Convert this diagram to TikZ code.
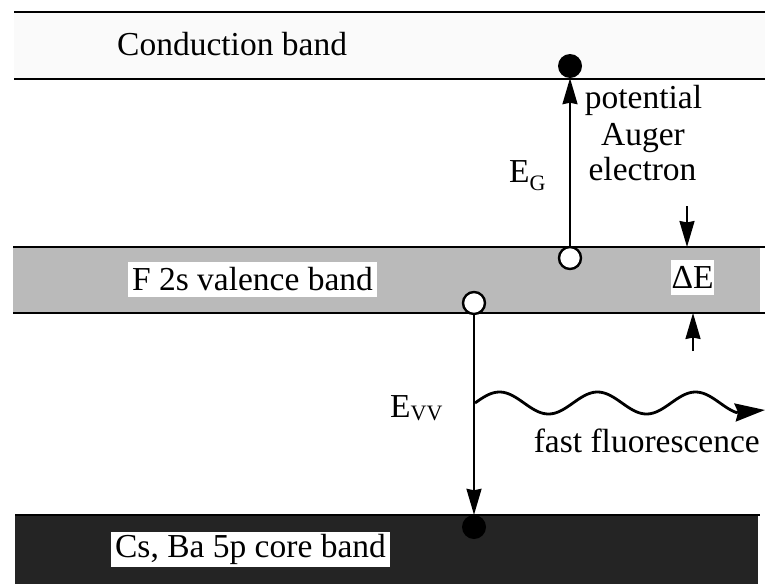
\documentclass[tikz,border=0pt]{standalone}
\usepackage{fontspec}
\setmainfont{Liberation Serif}
\usetikzlibrary{arrows.meta}
\tikzset{
  bandline/.style={line width=2.6pt},
  lbl/.style={font=\fontsize{33.5}{40}\selectfont, inner sep=0pt},
  labbox/.style={lbl, fill=white, minimum height=35pt},
  hole/.style={circle, draw, fill=white, line width=2.4pt, minimum size=22pt, inner sep=0pt},
  electron/.style={circle, fill=black, minimum size=24pt, inner sep=0pt},
  arr/.style={line width=2pt, -{Stealth[length=26pt,width=15pt,inset=1.5pt]}},
  wavearr/.style={line width=2.8pt, -{Stealth[length=30pt,width=18pt,inset=3pt]}}
}
\begin{document}
\begin{tikzpicture}[x=1pt,y=-1pt]
\useasboundingbox (0,0) rectangle (765,584);
% band fills
\fill[black!2] (14,12) rectangle (765,79);
\fill[black!27] (13,247) rectangle (760,313);
\fill[black!86] (15,515) rectangle (758,584);
% band edges
\draw[bandline] (14,12) -- (765,12);
\draw[bandline] (14,79) -- (765,79);
\draw[bandline] (13,247) -- (765,247);
\draw[bandline] (13,313) -- (765,313);
\draw[bandline] (15,515) -- (760,515);
% band labels
\node[lbl, anchor=base west] (cb) at (117,55) {Conduction band};
\node[labbox, minimum width=249pt] (vb) at (252.5,279.5) {F 2s valence band};
\node[labbox, minimum width=279pt] (core) at (250.5,549.5) {Cs, Ba 5p core band};
\node[labbox, minimum width=43pt] (dE) at (692.5,277.5) {ΔE};
% particles
\node[electron] (eC) at (570,66) {};
\node[hole] (hV1) at (570,258) {};
\node[hole] (hV2) at (474,303) {};
\node[electron] (eCore) at (474,527) {};
% transitions
\draw[arr] (hV1.north) -- (eC.south);
\draw[arr] (hV2.south) -- (eCore.north);
% delta E markers
\coordinate (dA0) at (687,206);
\coordinate (dA1) at (687,247);
\coordinate (uA0) at (693,351);
\coordinate (uA1) at (693,313);
\draw[arr] (dA0) -- (dA1);
\draw[arr] (uA0) -- (uA1);
% fluorescence wave
\coordinate (w0) at (475,403);
\coordinate (w1) at (765,410);
\draw[wavearr] (w0) -- plot[domain=0:261, samples=120, smooth] ({\x+475},{403-11*sin(\x*3.6735)}) -- (w1);
% labels
\node[lbl, anchor=base west] (EG) at (509,182) {E\raisebox{-8pt}{\fontsize{22}{26}\selectfont G}};
\node[lbl, anchor=base west] (EVV) at (390,417) {E\raisebox{-3pt}{\fontsize{22}{26}\selectfont VV}};
\node[lbl, anchor=base] (pot) at (643.5,108) {potential};
\node[lbl, anchor=base] (aug) at (643,145) {Auger};
\node[lbl, anchor=base] (ele) at (642.5,180) {electron};
\node[lbl, anchor=base east] (ff) at (760,452) {fast fluorescence};
\end{tikzpicture}
\end{document}
